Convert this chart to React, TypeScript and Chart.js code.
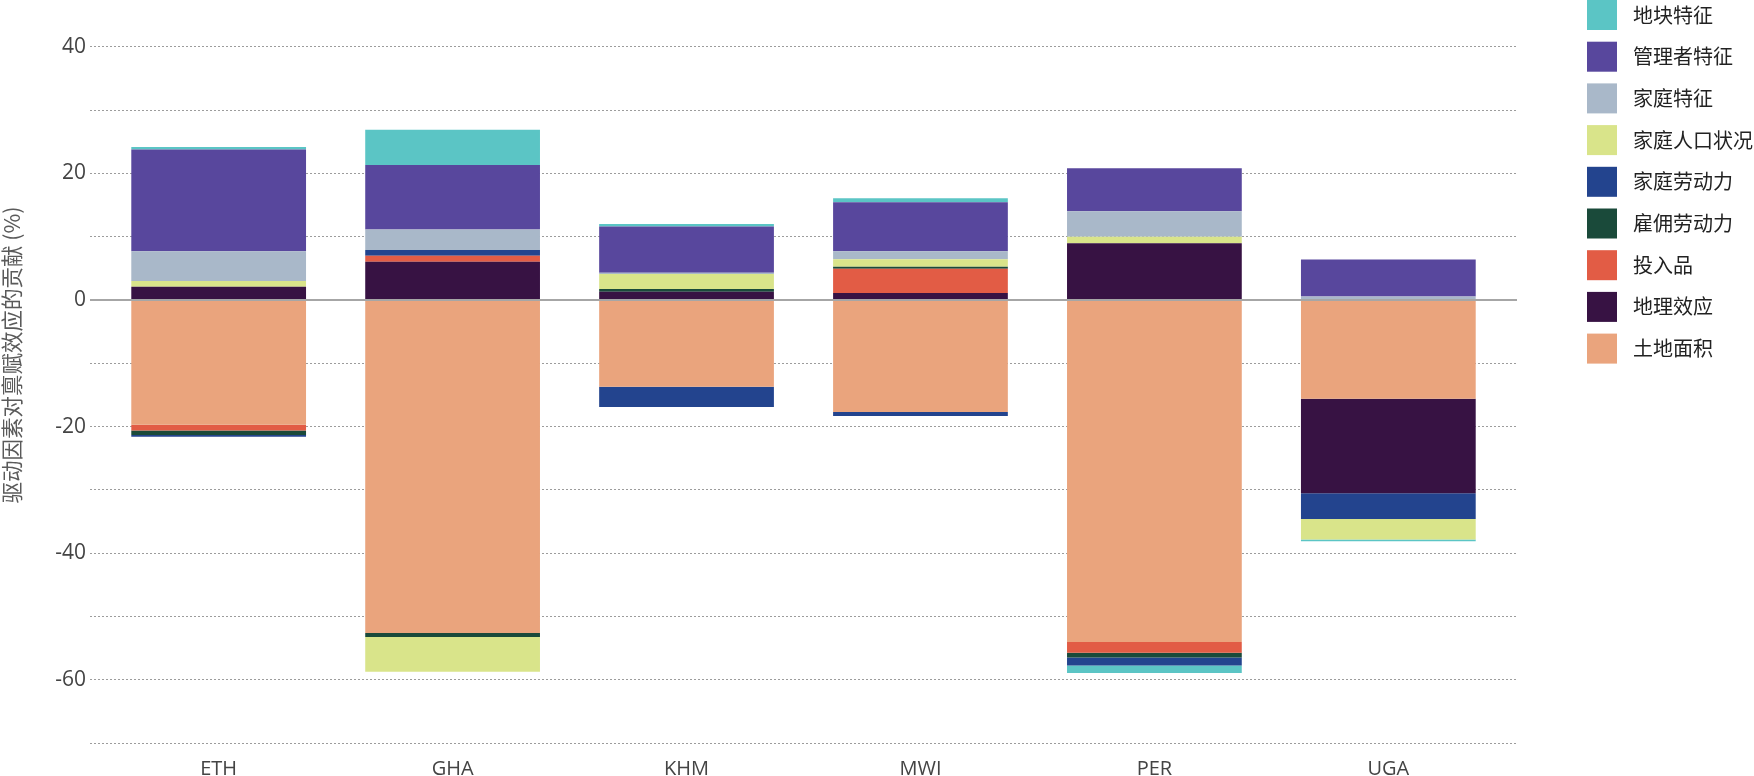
import React, { useEffect, useRef } from 'react';
import { Chart, registerables } from 'chart.js';

Chart.register(...registerables);

// ---- data ----
const countries = ['ETH', 'GHA', 'KHM', 'MWI', 'PER', 'UGA'];

const seriesNames = ['土地面积', '地理效应', '投入品', '雇佣劳动力', '家庭劳动力', '家庭人口状况', '家庭特征', '管理者特征', '地块特征'];

const landArea = [-19.7, -52.6, -13.7, -17.7, -54.0, -15.6];
const geoEffect = [2.1, 6.05, 1.3, 1.1, 8.95, -14.9];
const inputs = [-0.9, 0.95, 0, 3.85, -1.7, 0];
const hiredLabor = [-0.7, -0.6, 0.45, 0.3, -0.75, 0];
const familyLabor = [-0.3, 0.9, -3.2, -0.6, -1.25, -4.1];
const demographics = [0.9, -5.5, 2.35, 1.2, 1.05, -3.2];
const householdChar = [4.7, 3.25, 0.2, 1.25, 4.0, 0.55];
const managerChar = [16.05, 10.15, 7.3, 7.75, 6.8, 5.85];
const plotChar = [0.4, 5.6, 0.4, 0.6, -1.2, -0.3];

const seriesValues = [landArea, geoEffect, inputs, hiredLabor, familyLabor, demographics, householdChar, managerChar, plotChar];

const seriesColors = ['#EAA47D', '#371243', '#E25C45', '#1A4A3A', '#23448E', '#D9E48A', '#A9B8C9', '#58479D', '#5BC5C5'];

const yAxisTitle = '驱动因素对禀赋效应的贡献 (%)';
const yMin = -70;
const yMax = 40;
const yStep = 10;
const yLabelStep = 20;

const CJK = '"Noto Sans CJK SC", "Noto Sans", sans-serif';
const LATIN = '"Open Sans", "Noto Sans", sans-serif';

const sideLegend = {
  id: 'sideLegend',
  afterDraw(chart: any) {
    const ctx = chart.ctx;
    ctx.save();
    const x0 = chart.chartArea.right + 70;
    const step = 41.7;
    const box = 30;
    const order = seriesNames.map((n, i) => i).reverse();
    order.forEach((idx, k) => {
      const y = k * step;
      ctx.fillStyle = seriesColors[idx];
      ctx.fillRect(x0, y, box, box);
      ctx.fillStyle = '#222';
      ctx.font = `20px ${CJK}`;
      ctx.textAlign = 'left';
      ctx.textBaseline = 'middle';
      ctx.fillText(seriesNames[idx], x0 + 46, y + box / 2);
    });
    ctx.restore();
  },
};

const yTitlePlugin = {
  id: 'yTitle',
  afterDraw(chart: any) {
    const ctx = chart.ctx;
    ctx.save();
    ctx.translate(12, 355);
    ctx.rotate(-Math.PI / 2);
    ctx.fillStyle = '#5a5a5a';
    ctx.font = `21.5px ${CJK}`;
    ctx.textAlign = 'center';
    ctx.textBaseline = 'middle';
    ctx.fillText(yAxisTitle, 0, 0);
    ctx.restore();
  },
};

export default function App() {
  const canvasRef = useRef<HTMLCanvasElement | null>(null);

  useEffect(() => {
    document.body.style.margin = '0';
    const canvas = canvasRef.current;
    if (!canvas) return;

    const datasets = seriesNames.map((name, i) => ({
      label: name,
      data: seriesValues[i].map((v, j) => ({ x: j, y: v })),
      backgroundColor: seriesColors[i],
      borderWidth: 0,
      categoryPercentage: 1,
      barPercentage: 0.747,
    }));

    const chart = new Chart(canvas, {
      type: 'bar',
      data: { datasets },
      plugins: [sideLegend, yTitlePlugin],
      options: {
        animation: false,
        responsive: false,
        devicePixelRatio: 1,
        layout: { padding: { top: 46.7, right: 237, bottom: 0, left: 0 } },
        plugins: {
          legend: { display: false },
          tooltip: { enabled: false },
          title: { display: false },
        },
        scales: {
          x: {
            type: 'linear',
            stacked: true,
            offset: false,
            min: -0.55,
            max: 5.55,
            grid: { display: false, drawTicks: false, offset: false },
            border: { display: false },
            afterBuildTicks: (axis: any) => {
              axis.ticks = countries.map((_, i) => ({ value: i }));
            },
            afterFit: (scale: any) => {
              scale.height = 32.7;
            },
            ticks: {
              autoSkip: false,
              maxRotation: 0,
              padding: 14,
              color: '#444',
              font: { family: LATIN, size: 20 },
              callback: (v: any) => countries[Math.round(Number(v))] ?? '',
            },
          },
          y: {
            type: 'linear',
            stacked: true,
            min: yMin,
            max: yMax,
            afterFit: (scale: any) => {
              scale.width = 90;
            },
            grid: {
              drawTicks: false,
              color: (c: any) => (c.tick && c.tick.value === 0 ? '#a6a6a6' : '#9c9c9c'),
              lineWidth: (c: any) => (c.tick && c.tick.value === 0 ? 2 : 1),
            },
            border: {
              display: false,
              dash: (c: any) => (c.tick && c.tick.value === 0 ? [] : [2, 2]),
            },
            ticks: {
              stepSize: yStep,
              padding: 4,
              color: '#444',
              font: { family: LATIN, size: 21 },
              callback: (v: any) => (Number(v) % yLabelStep === 0 ? String(v) : ''),
            },
          },
        },
      } as any,
    });

    return () => chart.destroy();
  }, []);

  return (
    <div style={{ position: 'absolute', left: 0, top: 0, width: 1754, height: 776 }}>
      <canvas ref={canvasRef} width={1754} height={776} style={{ display: 'block' }} />
    </div>
  );
}
